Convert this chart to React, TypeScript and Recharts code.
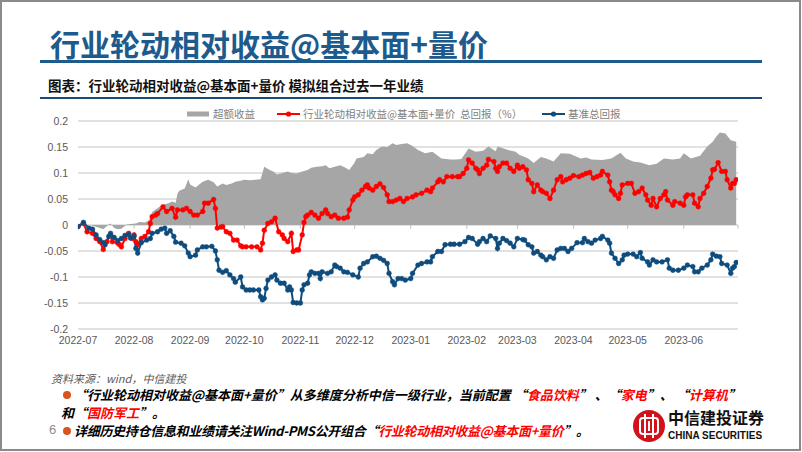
import React from 'react';
import { ComposedChart, Area, Line, XAxis, YAxis, CartesianGrid, Legend, ReferenceLine } from 'recharts';

// ---------- data ----------
// x = calendar day offset from 2022-07-01
const monthTicks = [0, 31, 62, 92, 123, 153, 184, 215, 243, 274, 304, 335, 365];
const monthLabels = ['2022-07', '2022-08', '2022-09', '2022-10', '2022-11', '2022-12', '2023-01', '2023-02', '2023-03', '2023-04', '2023-05', '2023-06', ''];
const yTicks = [-0.2, -0.15, -0.1, -0.05, 0, 0.05, 0.1, 0.15, 0.2];

const seriesNames = ['超额收益', '行业轮动相对收益@基本面+量价  总回报（%）', '基准总回报'];

const excessDays = [0, 7, 12, 14, 17, 18, 20, 22, 24, 27, 29, 32, 34, 37, 39, 40, 41, 44, 45, 48, 50, 52, 54, 55, 56, 59, 61, 62, 65, 67, 69, 72, 75, 77, 80, 82, 85, 87, 90, 92, 95, 98, 101, 103, 106, 108, 110, 113, 116, 118, 121, 124, 127, 129, 132, 135, 137, 139, 142, 145, 148, 150, 153, 154, 158, 160, 163, 165, 168, 171, 174, 176, 179, 182, 185, 188, 192, 196, 199, 201, 206, 209, 212, 216, 220, 224, 227, 231, 232, 237, 242, 244, 249, 252, 256, 259, 263, 267, 272, 278, 281, 284, 290, 295, 300, 303, 307, 311, 316, 320, 324, 329, 333, 335, 339, 344, 348, 351, 353, 355, 358, 361, 364];
const excessValues = [0, 0, -0.006, -0.008, 0.001, 0.003, -0.006, -0.008, -0.007, 0.001, 0.002, 0.003, 0.006, 0.005, 0.008, 0.015, 0.025, 0.032, 0.035, 0.04, 0.042, 0.045, 0.043, 0.06, 0.066, 0.07, 0.088, 0.078, 0.072, 0.078, 0.083, 0.087, 0.082, 0.074, 0.08, 0.077, 0.08, 0.083, 0.085, 0.087, 0.086, 0.087, 0.088, 0.112, 0.106, 0.103, 0.097, 0.1, 0.103, 0.1, 0.099, 0.103, 0.106, 0.11, 0.112, 0.113, 0.115, 0.109, 0.112, 0.115, 0.11, 0.106, 0.12, 0.128, 0.131, 0.138, 0.136, 0.144, 0.151, 0.15, 0.157, 0.154, 0.156, 0.157, 0.152, 0.144, 0.138, 0.141, 0.133, 0.128, 0.126, 0.126, 0.127, 0.147, 0.141, 0.143, 0.151, 0.142, 0.151, 0.145, 0.141, 0.135, 0.128, 0.119, 0.131, 0.128, 0.122, 0.138, 0.137, 0.128, 0.13, 0.126, 0.125, 0.128, 0.139, 0.128, 0.122, 0.12, 0.115, 0.118, 0.128, 0.126, 0.128, 0.138, 0.128, 0.133, 0.151, 0.16, 0.17, 0.178, 0.176, 0.163, 0.16];

const strategyDays = [0, 3, 5, 8, 10, 12, 14, 16, 18, 19, 22, 23, 24, 26, 28, 30, 31, 32, 33, 35, 37, 39, 40, 41, 43, 44, 47, 49, 52, 54, 55, 58, 60, 62, 64, 66, 69, 70, 72, 75, 76, 77, 79, 80, 82, 84, 86, 88, 90, 91, 93, 96, 99, 101, 102, 103, 105, 107, 109, 111, 113, 114, 116, 118, 119, 121, 122, 124, 125, 126, 127, 129, 131, 133, 135, 137, 138, 140, 142, 144, 147, 149, 150, 152, 153, 155, 157, 159, 160, 161, 163, 165, 167, 169, 171, 172, 174, 176, 178, 180, 182, 185, 187, 190, 193, 195, 196, 199, 200, 202, 204, 207, 210, 211, 213, 215, 216, 218, 220, 221, 222, 224, 226, 227, 230, 231, 232, 233, 235, 237, 239, 241, 243, 244, 246, 248, 249, 251, 252, 254, 256, 257, 259, 261, 263, 265, 267, 268, 270, 272, 274, 277, 279, 281, 283, 285, 287, 289, 290, 293, 294, 295, 296, 297, 299, 300, 301, 304, 306, 308, 310, 312, 314, 315, 317, 318, 320, 322, 324, 325, 326, 329, 330, 333, 335, 336, 337, 340, 341, 343, 344, 346, 348, 350, 351, 352, 354, 356, 358, 359, 361, 362, 363, 364];
const strategyValues = [-0.003, 0.003, -0.013, -0.016, -0.026, -0.032, -0.047, -0.032, -0.019, -0.032, -0.035, -0.038, -0.042, -0.026, -0.016, -0.026, -0.019, -0.032, -0.038, -0.026, -0.022, -0.013, 0.003, 0.016, 0.019, 0.022, 0.035, 0.026, 0.032, 0.015, 0.029, 0.029, 0.032, 0.026, 0.019, 0.019, 0.026, 0.042, 0.042, 0.049, 0.032, -0.006, -0.004, -0.003, -0.013, -0.016, -0.029, -0.029, -0.04, -0.042, -0.042, -0.042, -0.042, -0.048, -0.035, -0.01, 0.003, 0.006, 0.013, -0.013, -0.019, -0.026, -0.032, -0.016, -0.051, -0.048, -0.048, -0.019, 0.005, 0.016, 0.019, 0.024, 0.019, 0.013, 0.022, 0.029, 0.022, 0.016, 0.019, 0.013, 0.013, 0.015, 0.029, 0.048, 0.054, 0.058, 0.067, 0.074, 0.077, 0.071, 0.067, 0.074, 0.079, 0.072, 0.058, 0.045, 0.045, 0.048, 0.051, 0.045, 0.051, 0.054, 0.058, 0.061, 0.067, 0.064, 0.071, 0.083, 0.087, 0.083, 0.093, 0.093, 0.093, 0.093, 0.099, 0.109, 0.125, 0.119, 0.109, 0.106, 0.099, 0.109, 0.115, 0.126, 0.122, 0.109, 0.103, 0.112, 0.119, 0.119, 0.109, 0.103, 0.115, 0.109, 0.112, 0.106, 0.087, 0.08, 0.064, 0.077, 0.067, 0.064, 0.061, 0.051, 0.067, 0.087, 0.093, 0.083, 0.087, 0.09, 0.095, 0.093, 0.096, 0.099, 0.101, 0.09, 0.093, 0.096, 0.103, 0.096, 0.083, 0.067, 0.064, 0.058, 0.051, 0.061, 0.077, 0.08, 0.08, 0.061, 0.064, 0.071, 0.058, 0.048, 0.038, 0.051, 0.035, 0.051, 0.058, 0.064, 0.048, 0.038, 0.045, 0.042, 0.038, 0.054, 0.058, 0.058, 0.042, 0.035, 0.051, 0.061, 0.074, 0.09, 0.106, 0.107, 0.12, 0.103, 0.103, 0.087, 0.071, 0.08, 0.08, 0.087];

const benchmarkDays = [0, 3, 6, 8, 10, 12, 14, 15, 17, 18, 20, 22, 24, 26, 28, 29, 31, 32, 33, 35, 38, 40, 41, 44, 46, 48, 49, 51, 53, 54, 57, 59, 61, 62, 65, 66, 69, 71, 74, 76, 77, 78, 80, 82, 84, 86, 87, 90, 91, 93, 95, 97, 100, 101, 102, 103, 104, 105, 107, 109, 110, 112, 114, 116, 117, 118, 119, 121, 123, 124, 125, 127, 128, 129, 131, 133, 134, 135, 138, 140, 142, 143, 145, 147, 149, 152, 155, 156, 158, 160, 163, 165, 167, 169, 171, 172, 174, 175, 177, 179, 181, 184, 185, 188, 190, 193, 195, 196, 199, 201, 203, 206, 208, 211, 214, 216, 218, 221, 222, 224, 226, 228, 231, 232, 233, 235, 237, 239, 241, 243, 246, 247, 249, 251, 252, 254, 256, 257, 259, 261, 263, 265, 267, 269, 271, 273, 276, 279, 280, 282, 284, 286, 289, 290, 293, 294, 295, 297, 299, 301, 302, 304, 307, 309, 311, 312, 315, 316, 318, 320, 323, 326, 327, 329, 332, 335, 337, 340, 341, 343, 345, 348, 350, 351, 353, 355, 356, 359, 361, 362, 363, 364];
const benchmarkValues = [-0.003, 0.005, -0.006, -0.008, -0.019, -0.028, -0.034, -0.038, -0.022, -0.016, -0.024, -0.03, -0.026, -0.02, -0.018, -0.025, -0.022, -0.045, -0.054, -0.034, -0.029, -0.026, -0.016, -0.013, -0.008, -0.006, -0.016, -0.011, -0.022, -0.033, -0.035, -0.04, -0.054, -0.061, -0.058, -0.048, -0.042, -0.042, -0.041, -0.05, -0.067, -0.087, -0.091, -0.088, -0.096, -0.103, -0.11, -0.1, -0.119, -0.125, -0.125, -0.125, -0.125, -0.138, -0.144, -0.141, -0.122, -0.106, -0.1, -0.096, -0.106, -0.112, -0.112, -0.125, -0.119, -0.125, -0.149, -0.15, -0.15, -0.125, -0.115, -0.112, -0.096, -0.09, -0.093, -0.093, -0.103, -0.09, -0.093, -0.09, -0.077, -0.08, -0.083, -0.09, -0.091, -0.096, -0.1, -0.083, -0.074, -0.071, -0.061, -0.06, -0.064, -0.068, -0.074, -0.093, -0.109, -0.115, -0.103, -0.103, -0.106, -0.103, -0.093, -0.077, -0.074, -0.071, -0.071, -0.061, -0.051, -0.051, -0.038, -0.037, -0.037, -0.037, -0.032, -0.024, -0.026, -0.037, -0.032, -0.026, -0.032, -0.021, -0.026, -0.045, -0.035, -0.026, -0.03, -0.035, -0.042, -0.026, -0.028, -0.029, -0.038, -0.042, -0.054, -0.051, -0.058, -0.061, -0.067, -0.061, -0.064, -0.048, -0.045, -0.045, -0.051, -0.045, -0.034, -0.034, -0.026, -0.032, -0.035, -0.029, -0.026, -0.022, -0.029, -0.035, -0.054, -0.064, -0.074, -0.067, -0.058, -0.056, -0.056, -0.061, -0.053, -0.064, -0.071, -0.077, -0.067, -0.071, -0.071, -0.067, -0.083, -0.087, -0.087, -0.083, -0.077, -0.08, -0.09, -0.09, -0.083, -0.077, -0.067, -0.056, -0.06, -0.061, -0.074, -0.077, -0.093, -0.083, -0.08, -0.072];

// ---------- styles ----------
const CJK = '"Noto Sans CJK SC", "Noto Sans", sans-serif';
const AXIS_FONT = '"Liberation Sans", Arial, sans-serif';
const GRAY_FILL = '#A6A6A6';
const RED = '#FF0000';
const BLUE = '#0E4C7E';
const TITLE_BLUE = '#1D5B8C';

const toRows = (days: number[], values: number[]) => days.map((d, i) => ({ day: d, value: values[i] }));

const excessRows = toRows(excessDays, excessValues);
const strategyRows = toRows(strategyDays, strategyValues);
const benchmarkRows = toRows(benchmarkDays, benchmarkValues);

const legendLayout = [
  { kind: 'area', color: GRAY_FILL, left: 187 },
  { kind: 'line', color: RED, left: 277 },
  { kind: 'line', color: BLUE, left: 542 },
];

const LegendBox = () => (
  <div style={{ position: 'relative', width: 802, height: 16 }}>
    {legendLayout.map((item, i) => (
      <div key={i} style={{ position: 'absolute', left: item.left, top: 0, height: 16, display: 'flex', alignItems: 'center' }}>
        <svg width={24} height={16} style={{ display: 'block' }}>
          {item.kind === 'area' ? (
            <rect x={0} y={5.5} width={22} height={5} fill={item.color} />
          ) : (
            <g>
              <line x1={0} y1={8} x2={23} y2={8} stroke={item.color} strokeWidth={2} />
              <circle cx={11.5} cy={8} r={2.6} fill={item.color} />
            </g>
          )}
        </svg>
        <span style={{ marginLeft: 2, fontFamily: CJK, fontSize: 10.5, color: '#808080', whiteSpace: 'pre', lineHeight: '16px' }}>
          {seriesNames[i]}
        </span>
      </div>
    ))}
  </div>
);

const Logo = () => (
  <svg width={34} height={34} viewBox="0 0 34 34" style={{ position: 'absolute', left: 632, top: 409 }}>
    <circle cx={17} cy={17} r={16} fill="#D2111A" />
    <rect x={8} y={9} width={18} height={16} rx={3} fill="none" stroke="#fff" strokeWidth={2} />
    <line x1={13} y1={5} x2={13} y2={29} stroke="#fff" strokeWidth={2} />
    <line x1={21} y1={5} x2={21} y2={29} stroke="#fff" strokeWidth={2} />
    <line x1={17} y1={12} x2={17} y2={22} stroke="#fff" strokeWidth={2} />
  </svg>
);

export default function App() {
  return (
    <div style={{ position: 'absolute', left: 0, top: 0, width: 802, height: 452, background: '#fff', overflow: 'hidden', fontFamily: CJK }}>
      {/* page border */}
      <div style={{ position: 'absolute', left: 0, top: 0, width: 801, height: 451, border: '2px solid #8A8A8A', boxSizing: 'border-box' }} />

      {/* title */}
      <div style={{ position: 'absolute', left: 50, top: 28, fontSize: 30, lineHeight: '30px', color: TITLE_BLUE, fontWeight: 700, whiteSpace: 'nowrap' }}>
        行业轮动相对收益@基本面+量价
      </div>
      <div style={{ position: 'absolute', left: 40, top: 60, width: 722, height: 3, background: TITLE_BLUE }} />

      {/* subtitle */}
      <div style={{ position: 'absolute', left: 48, top: 78, fontSize: 13.5, lineHeight: '14px', color: '#111', fontWeight: 700, whiteSpace: 'nowrap' }}>
        图表：行业轮动相对收益@基本面+量价 模拟组合过去一年业绩
      </div>
      <div style={{ position: 'absolute', left: 40, top: 97, width: 722, height: 2, background: '#1C4A78' }} />

      {/* chart */}
      <div style={{ position: 'absolute', left: 0, top: 100 }}>
        <ComposedChart width={802} height={250} margin={{ top: 21, right: 64, bottom: 1, left: 38 }}>
          <CartesianGrid vertical={false} stroke="#C4C4C4" strokeWidth={1} />
          <XAxis
            type="number"
            dataKey="day"
            domain={[0, 365]}
            ticks={monthTicks}
            interval={0}
            allowDataOverflow
            tickFormatter={(v: number) => monthLabels[monthTicks.indexOf(v)] ?? ''}
            axisLine={false}
            tickLine={false}
            height={20}
            tick={{ fontSize: 10.5, fill: '#595959', fontFamily: AXIS_FONT }}
          />
          <YAxis
            type="number"
            domain={[-0.2, 0.2]}
            ticks={yTicks}
            interval={0}
            width={40}
            axisLine={false}
            tickLine={false}
            tickMargin={4}
            tickFormatter={(v: number) => String(v)}
            tick={{ fontSize: 10.5, fill: '#595959', fontFamily: AXIS_FONT }}
          />
          <Area
            data={excessRows}
            dataKey="value"
            name={seriesNames[0]}
            type="linear"
            baseValue={0}
            fill={GRAY_FILL}
            fillOpacity={1}
            stroke="none"
            isAnimationActive={false}
          />
          {monthTicks.map((d) => (
            <ReferenceLine key={d} segment={[{ x: d, y: 0 }, { x: d, y: -0.007 }]} stroke="#BFBFBF" strokeWidth={1} />
          ))}
          <Line
            data={strategyRows}
            dataKey="value"
            name={seriesNames[1]}
            type="linear"
            stroke={RED}
            strokeWidth={2}
            dot={{ r: 2.4, fill: RED, stroke: RED, strokeWidth: 0.5 }}
            activeDot={false}
            isAnimationActive={false}
          />
          <Line
            data={benchmarkRows}
            dataKey="value"
            name={seriesNames[2]}
            type="linear"
            stroke={BLUE}
            strokeWidth={2}
            dot={{ r: 2.4, fill: BLUE, stroke: BLUE, strokeWidth: 0.5 }}
            activeDot={false}
            isAnimationActive={false}
          />
          <Legend
            layout="horizontal"
            verticalAlign="middle"
            align="center"
            wrapperStyle={{ top: 6, left: 0, width: 802, height: 16 }}
            content={() => <LegendBox />}
          />
        </ComposedChart>
      </div>

      {/* footnotes */}
      <div style={{ position: 'absolute', left: 51, top: 372, fontSize: 11, lineHeight: '12px', color: '#595959', fontStyle: 'italic', whiteSpace: 'nowrap' }}>
        资料来源：wind，中信建投
      </div>

      <div style={{ position: 'absolute', left: 63, top: 391, width: 8, height: 8, borderRadius: 4, background: '#D9541E' }} />
      <div style={{ position: 'absolute', left: 74, top: 388, fontSize: 13, lineHeight: '14px', color: '#000', fontStyle: 'italic', fontWeight: 700, whiteSpace: 'pre' }}>
        “行业轮动相对收益@基本面+量价”从多维度分析中信一级行业，当前配置 “<span style={{ color: RED }}>食品饮料</span>” 、“<span style={{ color: RED }}>家电</span>”、 “<span style={{ color: RED }}>计算机</span>”
      </div>
      <div style={{ position: 'absolute', left: 61, top: 406, fontSize: 13, lineHeight: '14px', color: '#000', fontStyle: 'italic', fontWeight: 700, whiteSpace: 'pre' }}>
        和“<span style={{ color: RED }}>国防军工</span>”。
      </div>

      <div style={{ position: 'absolute', left: 49, top: 423, fontSize: 13, lineHeight: '14px', color: '#8C8C8C', fontFamily: AXIS_FONT }}>6</div>
      <div style={{ position: 'absolute', left: 63, top: 427, width: 8, height: 8, borderRadius: 4, background: '#D9541E' }} />
      <div style={{ position: 'absolute', left: 74, top: 424, fontSize: 13, lineHeight: '14px', color: '#000', fontStyle: 'italic', fontWeight: 700, whiteSpace: 'pre', letterSpacing: -0.3 }}>
        详细历史持仓信息和业绩请关注Wind-PMS公开组合“<span style={{ color: RED }}>行业轮动相对收益@基本面+量价</span>”。
      </div>

      {/* logo */}
      <Logo />
      <div style={{ position: 'absolute', left: 668, top: 409, fontSize: 16, lineHeight: '16px', fontWeight: 700, color: '#111', whiteSpace: 'nowrap' }}>
        中信建投证券
      </div>
      <div style={{ position: 'absolute', left: 668, top: 431, fontSize: 10, lineHeight: '10px', fontWeight: 700, color: '#111', fontFamily: AXIS_FONT, whiteSpace: 'nowrap' }}>
        CHINA SECURITIES
      </div>
    </div>
  );
}
